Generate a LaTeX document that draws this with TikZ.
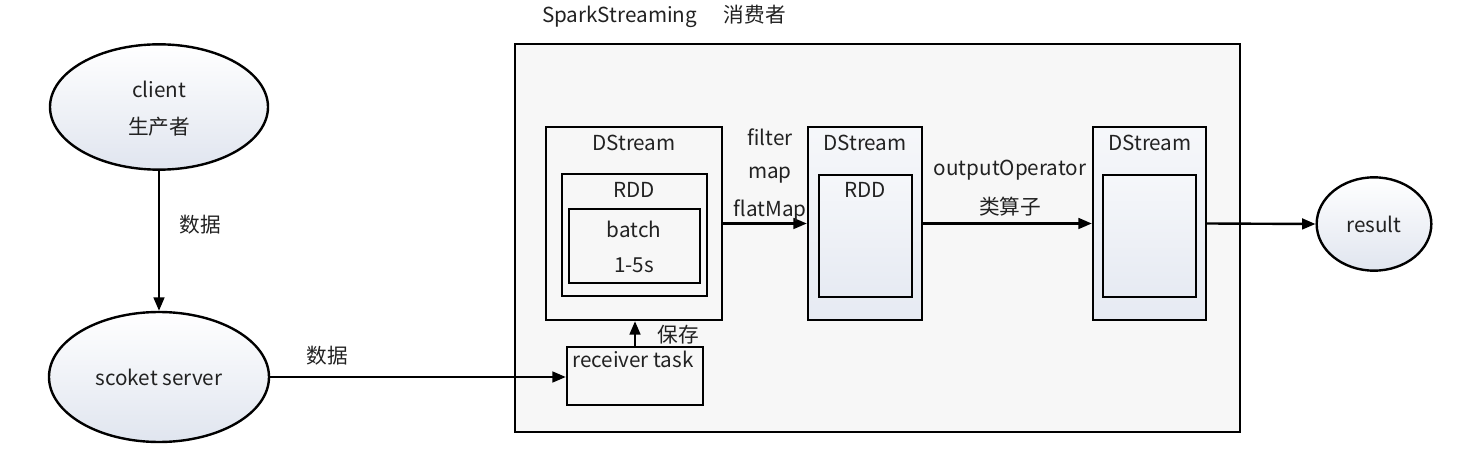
\documentclass[tikz,border=0pt]{standalone}
\usepackage{fontspec}
\setmainfont{Noto Sans CJK SC}
\usetikzlibrary{shapes.geometric,arrows.meta,fit}
\definecolor{txt}{HTML}{222222}
\definecolor{bigfill}{HTML}{F7F7F7}
\definecolor{shadebot}{HTML}{E0E5EF}
\begin{document}
\begin{tikzpicture}[x=0.75pt,y=-0.75pt,
  font=\fontsize{15.5}{18}\selectfont, text=txt,
  line/.style={line width=1.8pt, draw=black},
  arr/.style={line, -{Triangle[length=10pt,width=8pt]}},
  oval/.style={ellipse, line, inner sep=0pt, top color=white, bottom color=shadebot},
  boxg/.style={line, inner sep=0pt, fill=bigfill},
  boxb/.style={line, inner sep=0pt, top color=white!70!shadebot, bottom color=shadebot!80},
  lbl/.style={inner sep=1pt}
]
\useasboundingbox (0,0) rectangle (1464,452);
% ellipses
\node[oval, minimum width=163.5pt, minimum height=94pt] (client) at (159,107) {};
\node[lbl] at (159,89) {client};
\node[lbl] at (159,127) {生产者};
\node[oval, minimum width=165pt, minimum height=97.5pt] (sock) at (159,377) {};
\node[lbl] at (159,377) {scoket server};
\node[oval, minimum width=86pt, minimum height=70pt] (res) at (1374,224) {result};
% big box
\node[boxg, fit={(515,44) (1240,432)}] (spark) {};
\node[lbl] at (664,16) {SparkStreaming\hspace{1.3em}消费者};
% DStream 1
\node[boxg, fit={(546,127) (722,320)}] (ds1) {};
\node[lbl] at (634,143) {DStream};
\node[boxg, fit={(562,174) (707,296)}] (rdd1) {};
\node[lbl] at (634,190) {RDD};
\node[boxg, fit={(569,209) (700,283)}] (batch) {};
\node[lbl] at (634,229) {batch};
\node[lbl] at (634,265) {1-5s};
% receiver
\node[boxg, fit={(567,347) (703,405)}] (recv) {};
\node[lbl] at (633,359) {receiver task};
% DStream 2
\node[boxb, fit={(808,127) (922,320)}] (ds2) {};
\node[lbl] at (865,143) {DStream};
\node[boxb, fit={(819,175) (912,297)}] (rdd2) {};
\node[lbl] at (865,190) {RDD};
% DStream 3
\node[boxb, fit={(1093,127) (1206,320)}] (ds3) {};
\node[lbl] at (1150,143) {DStream};
\node[boxb, fit={(1103,175) (1196,297)}] (in3) {};
% arrows
\draw[arr] (client.south) -- (sock.north);
\node[lbl] at (200,225) {数据};
\draw[arr] (sock.east) -- (sock.east -| recv.west);
\node[lbl] at (327,356) {数据};
\draw[arr] (recv.north) -- (recv.north |- ds1.south);
\node[lbl] at (678,335) {保存};
\draw[arr] (ds1.east) -- (ds2.west);
\node[lbl] at (770,137) {filter};
\node[lbl] at (770,175) {map};
\node[lbl] at (770,211) {flatMap};
\draw[arr] (ds2.east) -- (ds3.west);
\node[lbl] at (1010,170) {outputOperator};
\node[lbl] at (1010,207) {类算子};
\draw[arr] (ds3.east) -- (res.west);
\end{tikzpicture}
\end{document}
